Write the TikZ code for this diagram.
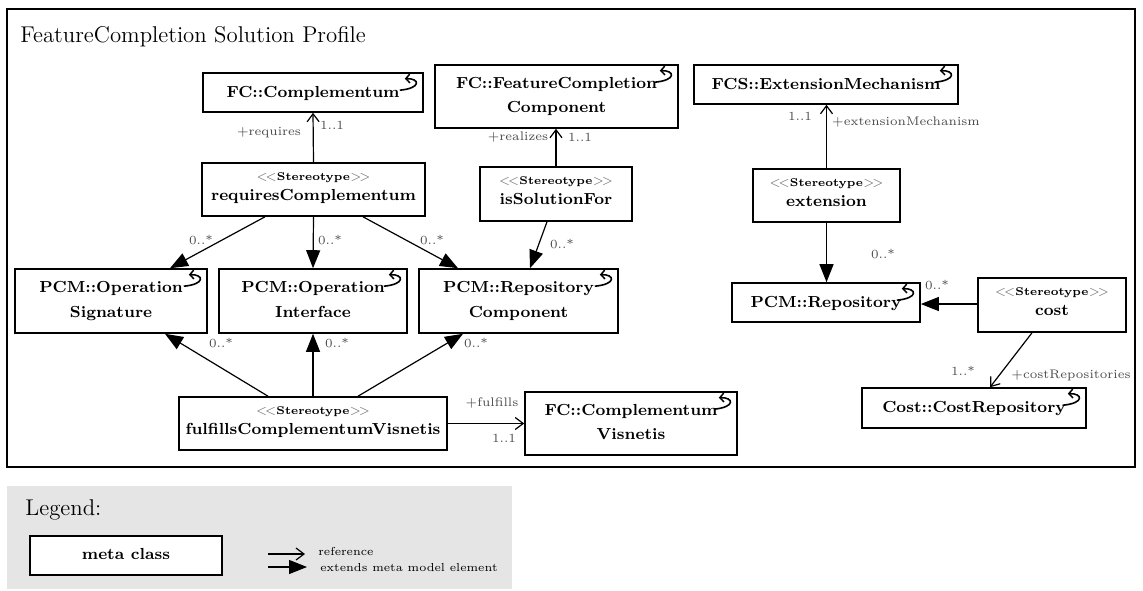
\documentclass[tikz,border=0pt]{standalone}
\usetikzlibrary{arrows.meta,calc,fit}
\newcommand{\stereotag}{\textcolor{black!55}{$<\!<$}Stereotype\textcolor{black!55}{$>\!>$}}
% class name text placed on the baselines inside a box
\newcommand{\clsone}[2]{\node[nametext] (#1-t) at ($(#1.center)+(0,4.5)$) {#2};}
\newcommand{\clstwo}[3]{\node[nametext] (#1-a) at ($(#1.center)+(0,-8.3)$) {#2};
  \node[nametext] (#1-b) at ($(#1.center)+(0,16.3)$) {#3};}
\newcommand{\stcls}[2]{\node[sttext] (#1-a) at ($(#1.center)+(0,-9.3)$) {\stereotag};
  \node[nametext] (#1-b) at ($(#1.center)+(0,10.7)$) {#2};}
\begin{document}
\begin{tikzpicture}[x=0.5pt,y=-0.5pt,
  box/.style={draw, line width=0.8pt, fill=white, inner sep=0pt},
  nametext/.style={anchor=base, inner sep=0pt, font=\fontsize{8.0}{10}\selectfont\bfseries},
  sttext/.style={anchor=base, inner sep=0pt, font=\fontsize{5.6}{7}\selectfont\bfseries},
  lbl/.style={font=\fontsize{6.2}{7}\selectfont, text=black!70, inner sep=0pt},
  legendlbl/.style={font=\fontsize{5.8}{7}\selectfont, inner sep=0pt, anchor=west},
  refarrow/.style={line width=0.6pt, -{Straight Barb[length=4pt,width=6pt,line width=0.6pt]}},
  extarrow/.style={line width=0.6pt, -{Triangle[length=9pt,width=7pt]}},
  mcicon/.pic={\draw[line width=0.8pt, -{Straight Barb[length=2pt,width=4.4pt,line width=0.75pt]}]
    (-24,18) .. controls (-2,16) and (-4,6) .. (-19,6.5);},
]
\useasboundingbox (0,0) rectangle (1143,590);

% profile frame and title
\draw[line width=0.75pt] (7,9) rectangle (1135,467);
\node[anchor=base west, inner sep=0pt, font=\fontsize{11.4}{13}\selectfont] (title) at (20,42)
  {FeatureCompletion Solution Profile};

% meta classes
\node[box, fit={(203,73) (423,112)}] (fccomp) {};
\node[box, fit={(435,65) (678,128)}] (fcfc) {};
\node[box, fit={(694,65) (958,104)}] (extmech) {};
\node[box, fit={(15,269) (207,333)}] (opsig) {};
\node[box, fit={(219,269) (407,333)}] (opint) {};
\node[box, fit={(419,269) (618,333)}] (repcomp) {};
\node[box, fit={(732,283) (920,322)}] (repo) {};
\node[box, fit={(862,388) (1086,428)}] (costrepo) {};
\node[box, fit={(525,392) (737,455)}] (fcvis) {};

\clsone{fccomp}{FC::Complementum}
\clstwo{fcfc}{FC::FeatureCompletion}{Component}
\clsone{extmech}{FCS::ExtensionMechanism}
\clstwo{opsig}{PCM::Operation}{Signature}
\clstwo{opint}{PCM::Operation}{Interface}
\clstwo{repcomp}{PCM::Repository}{Component}
\clsone{repo}{PCM::Repository}
\clsone{costrepo}{Cost::CostRepository}
\clstwo{fcvis}{FC::Complementum}{Visnetis}

\foreach \n in {fccomp,fcfc,extmech,opsig,opint,repcomp,repo,costrepo,fcvis}
  \pic at (\n.north east) {mcicon};

% stereotypes
\node[box, fit={(202,163) (425,216)}] (reqc) {};
\node[box, fit={(480,167) (632,221)}] (issol) {};
\node[box, fit={(753,169) (900,222)}] (extn) {};
\node[box, fit={(978,278) (1126,332)}] (cost) {};
\node[box, fit={(179,397) (447,450)}] (fulf) {};

\stcls{reqc}{requiresComplementum}
\stcls{issol}{isSolutionFor}
\stcls{extn}{extension}
\stcls{cost}{cost}
\stcls{fulf}{fulfillsComplementumVisnetis}

% references
\draw[refarrow] (reqc.north) -- (fccomp.south);
\draw[refarrow] (issol.north) -- (issol.north |- fcfc.south);
\draw[refarrow] (extn.north) -- (extn.north |- extmech.south);
\draw[refarrow] ($(cost.south)+(-20,0)$) -- ($(costrepo.north)+(16,0)$);
\draw[refarrow] (fulf.east) -- (fulf.east -| fcvis.west);

% extensions
\draw[extarrow] ($(reqc.south)+(-48.5,0)$) -- ($(opsig.north)+(59,0)$);
\draw[extarrow] (reqc.south) -- (opint.north);
\draw[extarrow] ($(reqc.south)+(49.5,0)$) -- ($(repcomp.north)+(-60.5,0)$);
\draw[extarrow] ($(issol.south)+(-9,0)$) -- ($(repcomp.north)+(11.5,0)$);
\draw[extarrow] (extn.south) -- (extn.south |- repo.north);
\draw[extarrow] (cost.west |- 0,304) -- (repo.east |- 0,304);
\draw[extarrow] ($(fulf.north)+(-45,0)$) -- ($(opsig.south)+(54,0)$);
\draw[extarrow] (fulf.north) -- (opint.south);
\draw[extarrow] ($(fulf.north)+(45,0)$) -- ($(repcomp.south)+(-55.5,0)$);

% role names and multiplicities
\node[lbl] (l1) at (269,133) {+requires};
\node[lbl] (l2) at (332,125) {1..1};
\node[lbl] (l3) at (518,137) {+realizes};
\node[lbl] (l4) at (580,137) {1..1};
\node[lbl] (l5) at (800,116) {1..1};
\node[lbl] (l6) at (906,122) {+extensionMechanism};
\node[lbl] (l7) at (883,254) {0..*};
\node[lbl] (l8) at (937,285) {0..*};
\node[lbl] (l9) at (963,371) {1..*};
\node[lbl] (l10) at (1071,375) {+costRepositories};
\node[lbl] (l11) at (201,240) {0..*};
\node[lbl] (l12) at (330,240) {0..*};
\node[lbl] (l13) at (432,240) {0..*};
\node[lbl] (l14) at (562,244) {0..*};
\node[lbl] (l15) at (221,343) {0..*};
\node[lbl] (l16) at (337,343) {0..*};
\node[lbl] (l17) at (476,343) {0..*};
\node[lbl] (l18) at (492,403) {+fulfills};
\node[lbl] (l19) at (504,438) {1..1};

% legend
\fill[black!10] (7,486) rectangle (512,589);
\node[anchor=base west, inner sep=0pt, font=\fontsize{11.4}{13}\selectfont] (legend) at (25,515) {Legend:};
\node[box, fit={(30,536) (222,575)}] (metaclass) {};
\node[nametext] (metaclass-t) at ($(metaclass.center)+(0,3.8)$) {meta class};
\coordinate (r0) at (268,554);
\coordinate (r1) at (305,554);
\coordinate (e0) at (268,567);
\coordinate (e1) at (307,567);
\draw[refarrow] (r0) -- (r1);
\draw[extarrow] (e0) -- (e1);
\node[legendlbl] (lref) at (318,551) {reference};
\node[legendlbl] (lext) at (320,568) {extends meta model element};
\end{tikzpicture}
\end{document}
